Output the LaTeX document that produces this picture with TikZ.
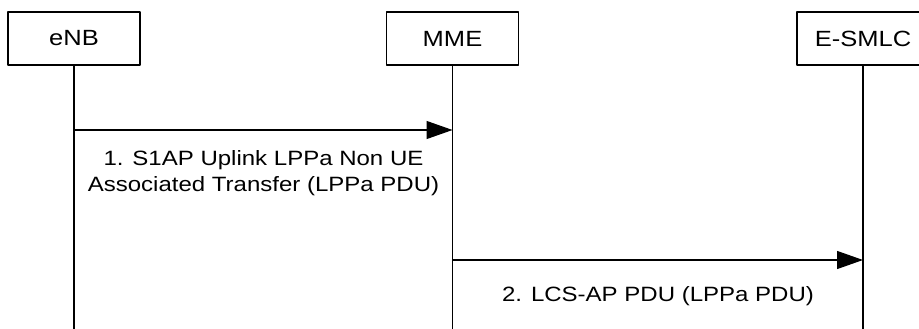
\documentclass[tikz,border=0pt]{standalone}
\usepackage{fontspec}
\setmainfont[FakeStretch=1.16]{Liberation Sans}
\usetikzlibrary{arrows.meta}
\begin{document}
\begin{tikzpicture}[x=1pt, y=-1pt, line width=1.2pt, line join=round, line cap=round, >={Triangle[length=26pt,width=18pt]},
	entity/.style={draw, minimum width=132pt, minimum height=53pt, inner sep=0pt, font=\fontsize{22}{26}\selectfont},
	msg/.style={align=center, inner sep=0pt, font=\fontsize{20.7}{26}\selectfont}]
		\useasboundingbox (0,0) rectangle (919,329);
		\node[entity] (eNB) at (74,38.5) {eNB};
		\node[entity] (MME) at (452.5,38.5) {MME};
		\node[entity] (ESMLC) at (863,38.5) {E-SMLC};
		\path
		(0,329) coordinate (B)
		(eNB.south |- 0,130) coordinate (A1)
		(MME.south |- 0,130) coordinate (A1')
		(MME.south |- 0,260) coordinate (A2)
		(ESMLC.south |- 0,260) coordinate (A2');
		\foreach \p in{eNB, MME, ESMLC}
		\draw (\p.south) -- (\p.south |- B);
		\draw[->] (A1) -- (A1');
		\draw[->] (A2) -- (A2');
		\node[msg] (L1) at (263.5,173.4) {1. S1AP Uplink LPPa Non UE\\Associated Transfer (LPPa PDU)};
		\node[msg, anchor=base] (L2) at (658,301) {2. LCS-AP PDU (LPPa PDU)};
	\end{tikzpicture}
\end{document}
